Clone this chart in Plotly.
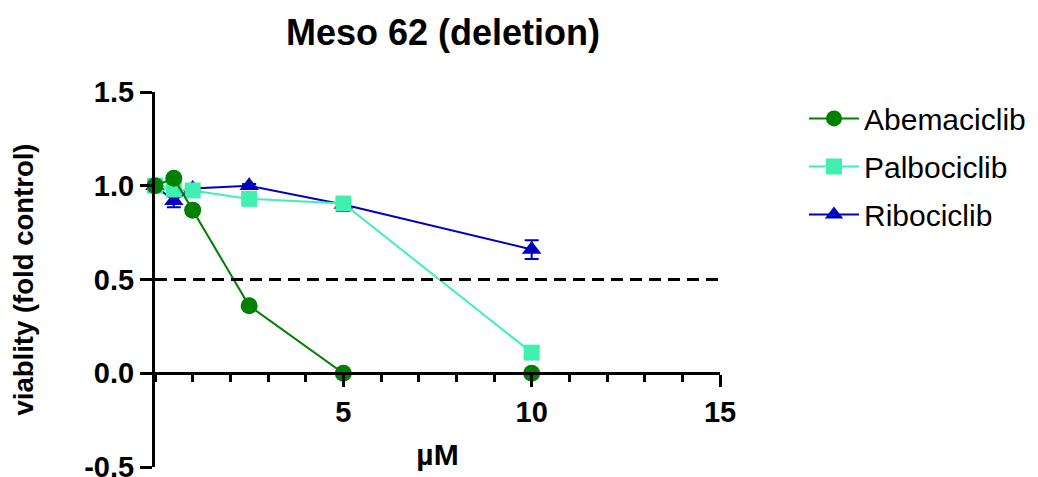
import plotly.graph_objects as go

doses = [0, 0.5, 1, 2.5, 5, 10]
abema = [1.0, 1.04, 0.87, 0.36, 0.0, 0.0]
palbo = [1.0, 0.98, 0.975, 0.93, 0.905, 0.11]
ribo = [1.0, 0.92, 0.985, 1.0, 0.90, 0.66]
ribo_err = [0.0, 0.035, 0.02, 0.01, 0.035, 0.05]
threshold = 0.5
xtick_vals = [5, 10, 15]
xtick_text = ["5", "10", "15"]
ytick_vals = [-0.5, 0.0, 0.5, 1.0, 1.5]
ytick_text = ["-0.5", "0.0", "0.5", "1.0", "1.5"]

FONT = "Arial, Liberation Sans, sans-serif"
C_ABE = "#008000"
C_PAL = "#40F0B0"
C_RIB = "#0000C0"

W, H = 1046, 469
L = 147
R = W - 712
PW = W - L - R

fig = go.Figure()
fig.add_trace(go.Scatter(
    x=doses, y=ribo, name="Ribociclib", mode="lines+markers",
    line=dict(color=C_RIB, width=2),
    marker=dict(symbol="triangle-up", size=17, color=C_RIB),
    error_y=dict(type="data", array=ribo_err, color=C_RIB, thickness=2, width=7),
    cliponaxis=False, legendrank=3, legendgroup="r"))
fig.add_trace(go.Scatter(
    x=doses, y=palbo, name="Palbociclib", mode="lines+markers",
    line=dict(color=C_PAL, width=2),
    marker=dict(symbol="square", size=16, color=C_PAL),
    cliponaxis=False, legendrank=2, legendgroup="p"))
fig.add_trace(go.Scatter(
    x=doses, y=abema, name="Abemaciclib", mode="lines+markers",
    line=dict(color=C_ABE, width=2),
    marker=dict(symbol="circle", size=17, color=C_ABE),
    cliponaxis=False, legendrank=1, legendgroup="a"))

fig.add_shape(type="line", xref="x", yref="y", x0=0, x1=15, y0=threshold, y1=threshold,
              line=dict(color="black", width=3, dash="12px,7px"))

fig.update_layout(
    width=W, height=H,
    margin=dict(l=L, r=R, t=84, b=10),
    plot_bgcolor="white", paper_bgcolor="white",
    font=dict(family=FONT, color="black"),
    title=dict(text="<b>Meso 62 (deletion)</b>", x=435 / W, xanchor="center",
               y=1 - 24 / H, yanchor="middle", font=dict(size=36, family=FONT)),
    showlegend=True,
    legend=dict(x=(796 - L) / PW, xanchor="left", y=0.999, yanchor="top",
                font=dict(size=30, family=FONT), tracegroupgap=6,
                bgcolor="rgba(0,0,0,0)", itemwidth=50),
    xaxis=dict(range=[0, 15], anchor="free", position=0.25, automargin=False,
               showline=True, linewidth=3, linecolor="black",
               showgrid=False, zeroline=False,
               ticks="outside", ticklen=12, tickwidth=3, tickcolor="black",
               tickmode="array", tickvals=xtick_vals, ticktext=xtick_text,
               tickfont=dict(size=29, family=FONT, weight="bold"),
               ticklabeloverflow="allow",
               minor=dict(ticks="outside", ticklen=7, tickwidth=3, tickcolor="black",
                          tickmode="linear", tick0=0, dtick=1, showgrid=False),
               title=dict(text="<b>µM</b>", font=dict(size=30, family=FONT), standoff=16)),
    yaxis=dict(range=[-0.5, 1.5], showline=True, linewidth=3, linecolor="black",
               automargin=False,
               showgrid=False, zeroline=False,
               ticks="outside", ticklen=12, tickwidth=3, tickcolor="black",
               tickmode="array", tickvals=ytick_vals, ticktext=ytick_text,
               tickfont=dict(size=29, family=FONT, weight="bold"),
               ticklabeloverflow="allow",
               title=dict(text="<b>viablity (fold control)</b>", font=dict(size=27.5, family=FONT),
                          standoff=47)),
)

fig.write_html("out.html")
